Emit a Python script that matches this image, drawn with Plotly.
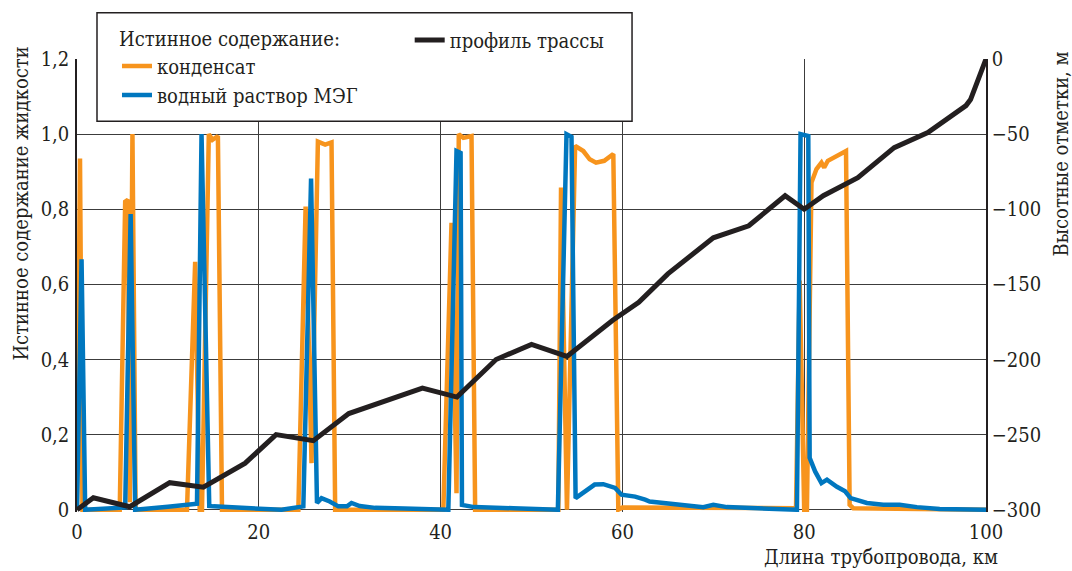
import plotly.graph_objects as go

# Distance along the pipeline, km, and true liquid holdup for each phase
x_condensate = [0, 0.33, 0.6, 4.7, 5.3, 5.6, 5.8, 6.1, 6.45, 12.1, 13.0, 13.5, 13.75, 14.5, 14.9,
                15.5, 15.95, 24.35, 25.15, 25.8, 26.5, 27.3, 28.0, 28.4, 40.3, 41.2, 41.75, 42.0,
                42.5, 43.4, 43.8, 52.95, 53.25, 53.9, 54.8, 55.7, 56.4, 57.1, 58.0, 59.0, 59.55,
                60.0, 79.1, 79.5, 80.0, 80.3, 80.8, 81.35, 81.9, 82.2, 82.6, 84.6, 85.0, 85.4, 100]
y_condensate = [0, 0.935, 0, 0, 0.82, 0.825, 0.02, 1.0, 0, 0, 0.66, 0, 0, 1.0, 0.985,
                0.995, 0, 0, 0.807, 0.124, 0.98, 0.972, 0.978, 0, 0, 0.764, 0.044, 1.0,
                0.99, 0.995, 0, 0, 0.858, 0, 0.969, 0.955, 0.933, 0.924, 0.929, 0.947, 0,
                0.006, 0.004, 0.61, 0, 0, 0.871, 0.907, 0.924, 0.911, 0.929, 0.955, 0.013, 0.004, 0]

x_meg = [0, 0.5, 0.9, 3.0, 5.3, 5.9, 6.4, 10.0, 13.2, 13.7, 14.55, 15.0, 20.0, 22.5, 24.9,
         25.75, 26.4, 26.9, 27.8, 28.75, 29.7, 30.2, 31.1, 32.8, 36.0, 40.85, 41.75, 42.2,
         42.35, 43.7, 48.0, 52.9, 53.85, 54.4, 54.85, 56.2, 56.95, 57.9, 59.2, 59.9, 61.4,
         62.5, 63.0, 68.9, 70.0, 71.5, 76.0, 79.2, 79.6, 80.45, 80.6, 81.2, 81.9, 82.5, 83.6,
         84.5, 85.1, 85.8, 86.9, 88.7, 90.5, 92.4, 94.9, 100]
y_meg = [0, 0.667, 0, 0.003, 0.006, 0.787, 0, 0.008, 0.016, 1.0, 0.01, 0.009, 0.004, 0, 0.009,
         0.882, 0.018, 0.031, 0.022, 0.009, 0.009, 0.018, 0.01, 0.005, 0.003, 0, 0.955, 0.95,
         0.013, 0.007, 0.004, 0, 1.0, 0.993, 0.031, 0.053, 0.067, 0.068, 0.058, 0.04, 0.035,
         0.027, 0.022, 0.007, 0.013, 0.007, 0.003, 0, 1.0, 0.995, 0.138, 0.102, 0.071, 0.08, 0.061,
         0.049, 0.031, 0.027, 0.018, 0.013, 0.013, 0.007, 0.002, 0]

# Route elevation profile, m
x_profile = [0, 1.8, 5.8, 10.2, 13.9, 18.5, 21.9, 26.0, 29.9, 38.0, 41.8, 46.1, 50.0, 53.9,
             58.9, 61.8, 65.0, 70.0, 73.9, 77.9, 80.0, 82.1, 85.9, 89.9, 93.6, 97.8, 98.3, 100]
y_profile = [-300, -292, -298, -282, -285, -269, -250, -254, -236, -219, -225, -200, -190, -198,
             -174, -162, -143, -119, -111, -91, -100, -91, -79, -59, -49, -31, -27, 0]

holdup_ticks = [0, 0.2, 0.4, 0.6, 0.8, 1.0, 1.2]
holdup_labels = ["0", "0,2", "0,4", "0,6", "0,8", "1,0", "1,2"]
elev_ticks = [-300, -250, -200, -150, -100, -50, 0]
km_ticks = [0, 20, 40, 60, 80, 100]

ORANGE = "#F7941D"
BLUE = "#0077BF"
INK = "#231F20"
GRID = "#3c3c3c"
FONT = "DejaVu Serif Condensed, DejaVu Serif"
FS = 20

fig = go.Figure()
fig.add_trace(go.Scatter(x=x_condensate, y=y_condensate, mode="lines", name="конденсат",
                         line=dict(color=ORANGE, width=4.5), legend="legend"))
fig.add_trace(go.Scatter(x=x_meg, y=y_meg, mode="lines", name="водный раствор МЭГ",
                         line=dict(color=BLUE, width=4.5), legend="legend"))
fig.add_trace(go.Scatter(x=x_profile, y=y_profile, mode="lines", name="профиль трассы",
                         line=dict(color=INK, width=5), yaxis="y2", legend="legend2"))

y_pad = 0.006
fig.update_layout(
    width=1072, height=571,
    margin=dict(l=77, r=86, t=59, b=59),
    paper_bgcolor="white", plot_bgcolor="white",
    font=dict(family=FONT, size=FS, color=INK),
    xaxis=dict(range=[0, 100], tickvals=km_ticks, showgrid=True, gridcolor=GRID, gridwidth=1,
               zeroline=False, showline=False, ticks="", ticklen=0, ticklabelstandoff=6,
               tickfont=dict(family=FONT, size=FS, color=INK)),
    yaxis=dict(range=[-y_pad, 1.2], tickvals=holdup_ticks, ticktext=holdup_labels,
               showgrid=True, gridcolor=GRID, gridwidth=1, zeroline=False,
               showline=True, linecolor=INK, linewidth=1.5, ticks="", ticklabelstandoff=2,
               tickfont=dict(family=FONT, size=FS, color=INK)),
    yaxis2=dict(range=[-300 - y_pad / 1.2 * 300, 0], tickvals=elev_ticks, overlaying="y",
                side="right", showgrid=False, zeroline=False, showline=True,
                linecolor=INK, linewidth=1.5, ticks="",
                tickfont=dict(family=FONT, size=FS, color=INK)),
    legend=dict(x=0.044, y=1.085, xanchor="left", yanchor="top",
                bgcolor="rgba(0,0,0,0)", borderwidth=0, tracegroupgap=0,
                title=dict(text="Истинное содержание:", font=dict(family=FONT, size=FS, color=INK)),
                font=dict(family=FONT, size=FS, color=INK)),
    legend2=dict(x=0.366, y=1.085, xanchor="left", yanchor="top",
                 bgcolor="rgba(0,0,0,0)", borderwidth=0,
                 font=dict(family=FONT, size=FS, color=INK)),
    showlegend=True,
)

# Legend frame drawn over the plot area
fig.add_shape(type="rect", xref="paper", yref="paper",
              x0=0.022, x1=0.6106, y0=0.8625, y1=1.102,
              fillcolor="white", line=dict(color=INK, width=1.5), layer="above")

# Axis titles
fig.add_annotation(text="Длина трубопровода, км", xref="paper", yref="paper",
                   x=1.015, y=-0.1, xanchor="right", yanchor="middle", showarrow=False,
                   font=dict(family=FONT, size=FS, color=INK))
fig.add_annotation(text="Истинное содержание жидкости", xref="paper", yref="paper",
                   x=-0.062, y=0.68, xanchor="center", yanchor="middle", textangle=-90,
                   showarrow=False, font=dict(family=FONT, size=FS, color=INK))
fig.add_annotation(text="Высотные отметки, м", xref="paper", yref="paper",
                   x=1.083, y=0.79, xanchor="center", yanchor="middle", textangle=-90,
                   showarrow=False, font=dict(family=FONT, size=FS, color=INK))

fig.write_html("out.html")
